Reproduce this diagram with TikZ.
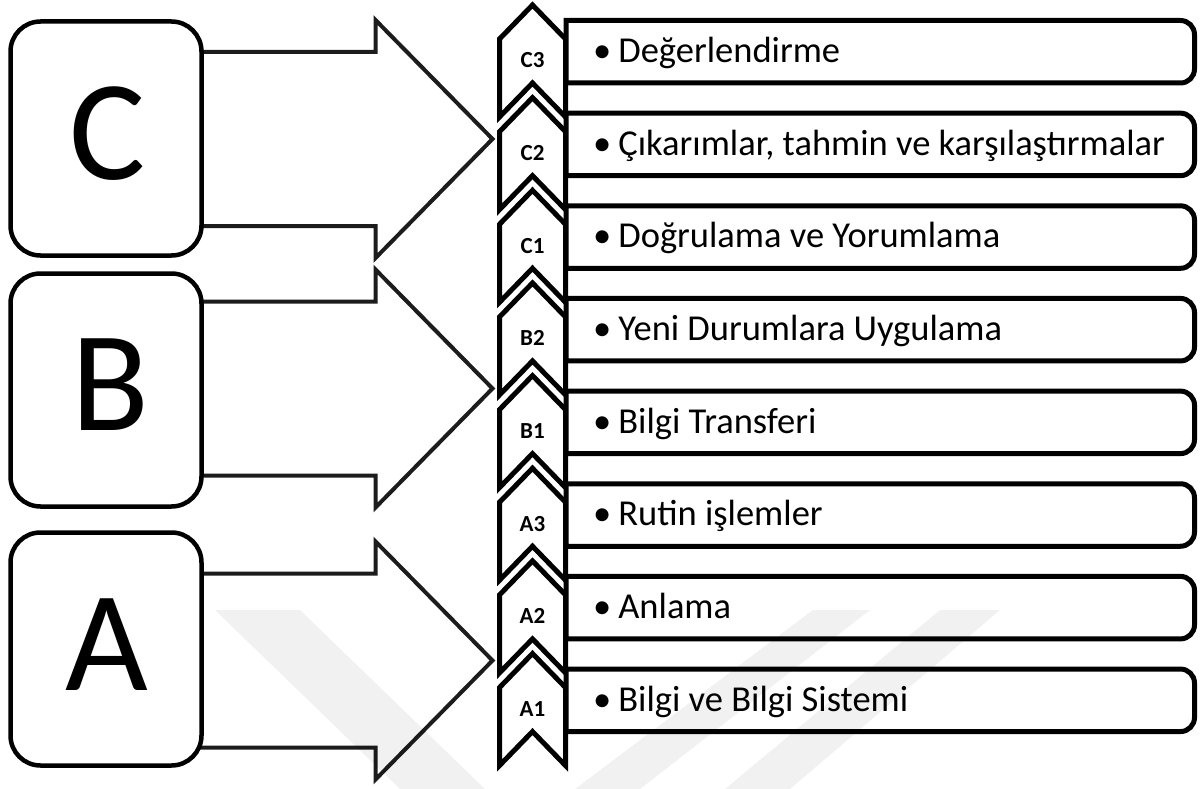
\documentclass[tikz,border=0pt]{standalone}
\usepackage{fontspec}
\setmainfont{Carlito}
\definecolor{arrowgray}{HTML}{1C1C1C}
\begin{document}
\begin{tikzpicture}[x=1pt,y=-1pt,
  letterbox/.style={draw=black, line width=4.5pt, fill=white, rounded corners=30pt, inner sep=0pt},
  bigarrow/.style={draw=arrowgray, line width=4pt, fill=white, line join=miter},
  chevshape/.style={draw=black, line width=5pt, fill=white, line join=miter},
  itembox/.style={draw=black, line width=5pt, fill=white, line join=miter},
  itemtext/.style={anchor=base west, font=\fontsize{36.5}{40}\selectfont, inner sep=0pt},
  chevlabel/.style={font=\bfseries\fontsize{23}{26}\selectfont, inner sep=0pt},
  bigletter/.style={font=\fontsize{143}{150}\selectfont, inner sep=0pt},
  watermark/.style={fill=black, opacity=0.055, draw=none}]
\useasboundingbox (0,0) rectangle (1203,789);
% coordinates for the big arrows
\coordinate (tipC) at (492.5,139);
\coordinate (tipB) at (492.5,388.5);
\coordinate (tipA) at (492.5,660.5);
% big arrows
\foreach \yc in {139,388.5,660.5}{
  \draw[bigarrow] (180,\yc-87) -- (375.5,\yc-87) -- (375.5,\yc-119) -- (492.5,\yc)
     -- (375.5,\yc+119) -- (375.5,\yc+87) -- (180,\yc+87);
}
% letter boxes
\node[letterbox, minimum width=191pt, minimum height=234pt] (boxC) at (106,138.5) {};
\node[letterbox, minimum width=191pt, minimum height=233pt] (boxB) at (106,390) {};
\node[letterbox, minimum width=191pt, minimum height=233pt] (boxA) at (106,649) {};
\node[bigletter] (letC) at (108,134) {C};
\node[bigletter] (letB) at (110,385) {B};
\node[bigletter] (letA) at (107,645) {A};
% chevrons and item boxes
\foreach \k/\lab/\txt in {0/C3/Değerlendirme,
  1/C2/{Çıkarımlar, tahmin ve karşılaştırmalar},
  2/C1/Doğrulama ve Yorumlama,
  3/B2/Yeni Durumlara Uygulama,
  4/B1/Bilgi Transferi,
  5/A3/Rutin işlemler,
  6/A2/Anlama,
  7/A1/Bilgi ve Bilgi Sistemi}{
  \pgfmathsetmacro\t{5+92.65*\k}
  \pgfmathsetmacro\bt{20.5+92.65*\k}
  \pgfmathsetmacro\bb{83+92.65*\k}
  \pgfmathsetmacro\bl{62.5+92.65*\k}
  \draw[chevshape] (532.5,\t) -- (565.5,\t+34) -- (565.5,\t+112) -- (532.5,\t+78)
     -- (499.5,\t+112) -- (499.5,\t+34) -- cycle;
  \draw[itembox] (566,\bt) -- (1000,\bt) [rounded corners=14pt] -- (1194.5,\bt)
     -- (1194.5,\bb) -- (1000,\bb) [sharp corners] -- (566,\bb) -- cycle;
  \node[chevlabel] (lab\k) at (532.5,\t+55.5) {\lab};
  \node[itemtext] (txt\k) at (593,\bl) {•\hspace{7pt}\txt};
}
% faint watermark overlay
\begin{scope}
\clip (0,0) rectangle (1203,789);
\fill[watermark] (215,610) -- (300,610) -- (485,789) -- (400,789) -- cycle;
\fill[watermark] (813,610) -- (870,610) -- (640,789) -- (575,789) -- cycle;
\fill[watermark] (940,610) -- (1000,610) -- (790,789) -- (725,789) -- cycle;
\end{scope}
\end{tikzpicture}
\end{document}
